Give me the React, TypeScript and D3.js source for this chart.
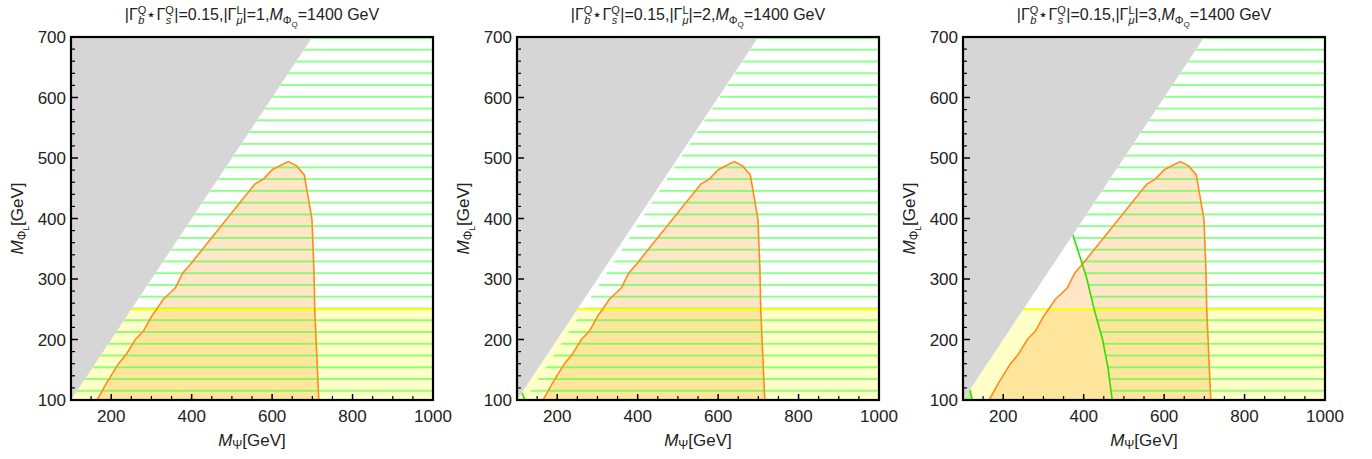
import * as d3 from "d3";

// panel parameters
const muValues = [1, 2, 3];
const xTicks = [200, 400, 600, 800, 1000];
const yTicks = [100, 200, 300, 400, 500, 600, 700];

// allowed (orange) region, shared by all panels [M_Psi, M_PhiL]
const orangeX = [165, 190, 218, 237, 260, 280, 300, 315, 330, 345, 360, 378, 400, 557, 578, 601, 640, 661, 680, 699, 704, 706, 716];
const orangeY = [100, 130, 160, 175, 200, 214, 238, 252, 267, 276, 286, 310, 327, 457, 465, 481, 494, 487, 472, 399, 316, 250, 100];

// green exclusion boundary (third panel)
const greenX = [373, 395, 408, 426, 447, 460, 471];
const greenY = [373, 328, 300, 250, 200, 155, 100];

// small green corner curves (panels 2 and 3)
const cornerX2 = [112, 120];
const cornerY2 = [112, 100];
const cornerX3 = [117, 123];
const cornerY3 = [117, 100];

const W = 362;
const H = 363;
const LEFTS = [71, 517, 963];
const TOP = 37;

const x = d3.scaleLinear().domain([100, 1000]).range([0, W]);
const y = d3.scaleLinear().domain([100, 700]).range([H, 0]);

const zip = (xs: number[], ys: number[]) => xs.map((v, i) => [v, ys[i]] as [number, number]);
const line = d3.line<[number, number]>().x((d) => x(d[0])).y((d) => y(d[1]));
const poly = (pts: [number, number][]) => line(pts) + "Z";

const Title = ({ mu, cx }: { mu: number; cx: number }) => (
  <text x={cx} y={20 - TOP} textAnchor="middle" fontSize={16} fontFamily="Liberation Sans, Arial" fill="#222">
    <tspan>|Γ</tspan>
    <tspan fontSize={11} dy={-6}>Q</tspan>
    <tspan fontSize={11} dx={-8} dy={10} fontStyle="italic">b</tspan>
    <tspan dy={-4} dx={2}>⋆Γ</tspan>
    <tspan fontSize={11} dy={-6}>Q</tspan>
    <tspan fontSize={11} dx={-8} dy={10} fontStyle="italic">s</tspan>
    <tspan dy={-4} dx={3}>|=0.15,|Γ</tspan>
    <tspan fontSize={11} dy={-6}>L</tspan>
    <tspan fontSize={11} dx={-6} dy={10} fontStyle="italic">μ</tspan>
    <tspan dy={-4}>{`|=${mu},`}</tspan>
    <tspan fontStyle="italic">M</tspan>
    <tspan fontSize={11} dy={4}>Φ</tspan>
    <tspan fontSize={8} dy={3}>Q</tspan>
    <tspan dy={-7}>=1400 GeV</tspan>
  </text>
);

const Panel = ({ idx }: { idx: number }) => {
  const mu = muValues[idx];
  const pid = `hatch${idx}`;
  const gray = poly([[100, 100], [700, 700], [100, 700]]);
  const yellow = poly([[100, 100], [250, 250], [1000, 250], [1000, 100]]);
  const orange = zip(orangeX, orangeY);
  let hatchPts: [number, number][];
  if (idx === 0) hatchPts = [[100, 100], [700, 700], [1000, 700], [1000, 100]];
  else if (idx === 1) hatchPts = [...zip(cornerX2, cornerY2), [700, 700], [1000, 700], [1000, 100]];
  else hatchPts = [...zip(greenX, greenY).reverse(), [700, 700], [1000, 700], [1000, 100]];
  const xMinor = d3.range(150, 1000, 50);
  const yMinor = d3.range(120, 700, 20).filter((v) => v % 100 !== 0);
  return (
    <g transform={`translate(${LEFTS[idx]},${TOP})`}>
      <defs>
        <pattern id={pid} patternUnits="userSpaceOnUse" width={W} height={11.76}>
          <rect x={0} y={0} width={W} height={2} fill="#33ff33" opacity={0.55} />
        </pattern>
        <clipPath id={`clip${idx}`}>
          <rect width={W} height={H} />
        </clipPath>
      </defs>
      <g clipPath={`url(#clip${idx})`}>
        <rect width={W} height={H} fill="#fff" />
        <path d={yellow} fill="#ffffc8" />
        <path d={poly(orange)} fill="#ff8c00" fillOpacity={0.22} />
        <path d={poly(hatchPts)} fill={`url(#${pid})`} />
        {idx === 2 && <path d={poly([[100, 100], ...zip(cornerX3, cornerY3)])} fill="#b8f58a" />}
        <path d={line([[250, 250], [1000, 250]])!} stroke="#ffff00" strokeWidth={2} fill="none" />
        <path d={poly(orange)} stroke="#ff8c1a" strokeWidth={1.6} fill="none" />
        {idx === 2 && <path d={line(zip(greenX, greenY))!} stroke="#33dd00" strokeWidth={1.6} fill="none" />}
        {idx === 1 && <path d={line(zip(cornerX2, cornerY2))!} stroke="#33dd00" strokeWidth={1.6} fill="none" />}
        {idx === 2 && <path d={line(zip(cornerX3, cornerY3))!} stroke="#33dd00" strokeWidth={1.6} fill="none" />}
        <path d={gray} fill="#d6d6d6" />
      </g>
      {/* ticks */}
      {xTicks.map((t) => (
        <line key={`xt${t}`} x1={x(t)} x2={x(t)} y1={H} y2={H - 6} stroke="#000" strokeWidth={1.5} />
      ))}
      {xMinor.filter((t) => t % 200 !== 0).map((t) => (
        <line key={`xm${t}`} x1={x(t)} x2={x(t)} y1={H} y2={H - 4} stroke="#000" strokeWidth={1.2} />
      ))}
      {yTicks.map((t) => (
        <line key={`yt${t}`} x1={0} x2={7} y1={y(t)} y2={y(t)} stroke="#000" strokeWidth={1.5} />
      ))}
      {yMinor.map((t) => (
        <line key={`ym${t}`} x1={0} x2={4} y1={y(t)} y2={y(t)} stroke="#000" strokeWidth={1.2} />
      ))}
      <rect width={W} height={H} fill="none" stroke="#000" strokeWidth={2.2} />
      {xTicks.map((t) => (
        <text key={`xl${t}`} x={x(t)} y={H + 22} textAnchor="middle" fontSize={17} fontFamily="Liberation Sans, Arial" fill="#222">
          {t}
        </text>
      ))}
      {yTicks.map((t) => (
        <text key={`yl${t}`} x={-5} y={y(t) + 6} textAnchor="end" fontSize={17} fontFamily="Liberation Sans, Arial" fill="#222">
          {t}
        </text>
      ))}
      <text x={W / 2} y={H + 46} textAnchor="middle" fontSize={17} fontFamily="Liberation Sans, Arial" fill="#222">
        <tspan fontStyle="italic">M</tspan>
        <tspan fontSize={12} dy={3}>Ψ</tspan>
        <tspan dy={-3}>[GeV]</tspan>
      </text>
      <text transform={`translate(${-48},${H / 2}) rotate(-90)`} textAnchor="middle" fontSize={17} fontFamily="Liberation Sans, Arial" fill="#222">
        <tspan fontStyle="italic">M</tspan>
        <tspan fontSize={12} dy={3}>Φ</tspan>
        <tspan fontSize={8.5} dy={3}>L</tspan>
        <tspan dy={-6}>[GeV]</tspan>
      </text>
      <Title mu={mu} cx={W / 2} />
    </g>
  );
};

export default function App() {
  return (
    <svg width={1372} height={459} style={{ position: "absolute", left: 0, top: 0 }}>
      <rect width={1372} height={459} fill="#fff" />
      {[0, 1, 2].map((i) => (
        <Panel key={i} idx={i} />
      ))}
    </svg>
  );
}
